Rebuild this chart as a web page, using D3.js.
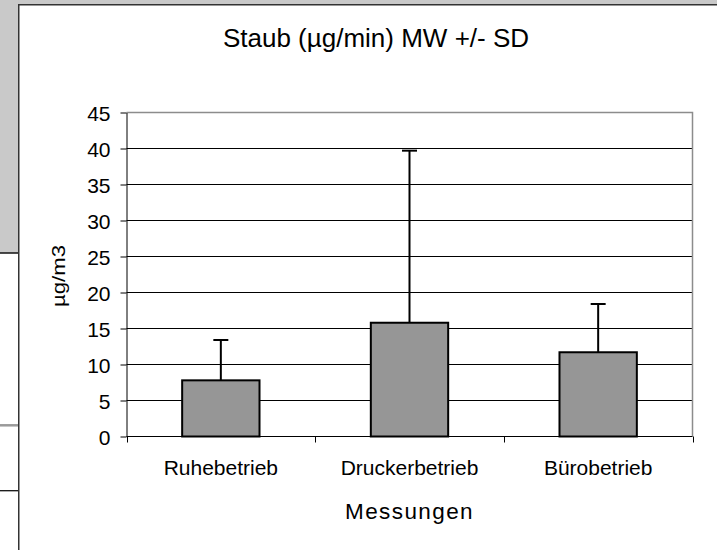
<!DOCTYPE html>
<html>
<head>
<meta charset="utf-8">
<script src="https://cdn.jsdelivr.net/npm/d3@7/dist/d3.min.js"></script>
<style>
  body { margin: 0; background: #fff; }
  svg { display: block; font-family: "Liberation Sans", Arial, sans-serif; }
</style>
</head>
<body>
<svg width="717" height="550"></svg>
<script>
// data
const categories = ["Ruhebetrieb", "Druckerbetrieb", "Bürobetrieb"];
const means = [7.8, 15.8, 11.7];
const sds = [5.6, 23.9, 6.7];
const yTicks = [0, 5, 10, 15, 20, 25, 30, 35, 40, 45];

const svg = d3.select("svg");

// spreadsheet bits around the chart object
svg.append("rect").attr("x", 0).attr("y", 0).attr("width", 717).attr("height", 5).attr("fill", "#c9c9c9");
svg.append("rect").attr("x", 0).attr("y", 0).attr("width", 19).attr("height", 253).attr("fill", "#c9c9c9");
svg.append("line").attr("x1", 0).attr("x2", 19).attr("y1", 253).attr("y2", 253)
  .attr("stroke", "#111").attr("stroke-width", 1.5);
svg.append("line").attr("x1", 0).attr("x2", 19).attr("y1", 425.3).attr("y2", 425.3)
  .attr("stroke", "#9a9a9a").attr("stroke-width", 2.5);
svg.append("line").attr("x1", 0).attr("x2", 19).attr("y1", 490.7).attr("y2", 490.7)
  .attr("stroke", "#111").attr("stroke-width", 1.3);

// chart box
svg.append("rect").attr("x", 18.75).attr("y", 4.75).attr("width", 760).attr("height", 600)
  .attr("fill", "#fff").attr("stroke", "#333").attr("stroke-width", 1.5);

const pLeft = 126.5, pRight = 692.5, pTop = 112.5, pBottom = 436.5;

const x = d3.scaleBand().domain(categories).range([pLeft, pRight])
  .paddingInner(0.59).paddingOuter(0.295);
const y = d3.scaleLinear().domain([0, 45]).range([pBottom, pTop]);

// gridlines
svg.append("g").selectAll("line")
  .data(yTicks.filter(d => d > 0 && d < 45))
  .join("line")
  .attr("x1", pLeft).attr("x2", pRight)
  .attr("y1", d => y(d)).attr("y2", d => y(d))
  .attr("stroke", "#000").attr("stroke-width", 1);

// plot area border (top / right)
svg.append("path")
  .attr("d", `M${pLeft},${y(45)}H${pRight}V${pBottom}`)
  .attr("fill", "none").attr("stroke", "#8c8c8c").attr("stroke-width", 1.5);

// bars
svg.append("g").selectAll("rect")
  .data(categories)
  .join("rect")
  .attr("x", d => x(d)).attr("width", x.bandwidth())
  .attr("y", (d, i) => y(means[i]))
  .attr("height", (d, i) => y(0) - y(means[i]))
  .attr("fill", "#969696").attr("stroke", "#000").attr("stroke-width", 2);

// error bars (plus only)
const eb = svg.append("g").attr("stroke", "#000").attr("stroke-width", 2);
categories.forEach((c, i) => {
  const cx = x(c) + x.bandwidth() / 2;
  eb.append("line").attr("x1", cx).attr("x2", cx)
    .attr("y1", y(means[i])).attr("y2", y(means[i] + sds[i]));
  eb.append("line").attr("x1", cx - 7.5).attr("x2", cx + 7.5)
    .attr("y1", y(means[i] + sds[i])).attr("y2", y(means[i] + sds[i]));
});

// y axis
const yAxis = svg.append("g").attr("transform", `translate(${pLeft},0)`)
  .call(d3.axisLeft(y).tickValues(yTicks).tickSize(6).tickSizeOuter(0).tickPadding(10));
yAxis.select(".domain").attr("stroke", "#000");
yAxis.selectAll(".tick line").attr("stroke", "#000");
yAxis.selectAll(".tick text")
  .attr("font-size", 21).attr("font-family", "Liberation Sans, Arial, sans-serif")
  .attr("fill", "#000").attr("dy", "0.36em");

// x axis: labels centred, ticks at the band edges
const xAxis = svg.append("g").attr("transform", `translate(0,${pBottom})`)
  .call(d3.axisBottom(x).tickSize(0).tickSizeOuter(0));
xAxis.select(".domain").attr("stroke", "#000").attr("d", `M${pLeft},0H${pRight}`);
xAxis.selectAll(".tick text")
  .attr("font-size", 21).attr("font-family", "Liberation Sans, Arial, sans-serif")
  .attr("fill", "#000").attr("y", 38.5).attr("dy", 0);
const edges = [pLeft].concat(categories.map(c => x(c) + x.bandwidth() + x.step() * x.paddingInner() / 2));
edges[edges.length - 1] = pRight;
xAxis.selectAll(".edge").data(edges).join("line").attr("class", "edge")
  .attr("x1", d => Math.round(d) + 0.5).attr("x2", d => Math.round(d) + 0.5)
  .attr("y1", 0).attr("y2", 6).attr("stroke", "#000");

// titles
svg.append("text").attr("x", 376).attr("y", 46.7).attr("text-anchor", "middle")
  .attr("font-size", 26).text("Staub (µg/min) MW +/- SD");

svg.append("text").attr("x", (pLeft + pRight) / 2).attr("y", 519.3).attr("text-anchor", "middle")
  .attr("font-size", 22.5).attr("letter-spacing", 1.4).text("Messungen");

svg.append("text")
  .attr("transform", `translate(65,${(pTop + pBottom) / 2 + 1.5}) rotate(-90)`)
  .attr("text-anchor", "middle").attr("font-size", 18)
  .attr("textLength", 62).attr("lengthAdjust", "spacingAndGlyphs")
  .text("µg/m3");
</script>
</body>
</html>
